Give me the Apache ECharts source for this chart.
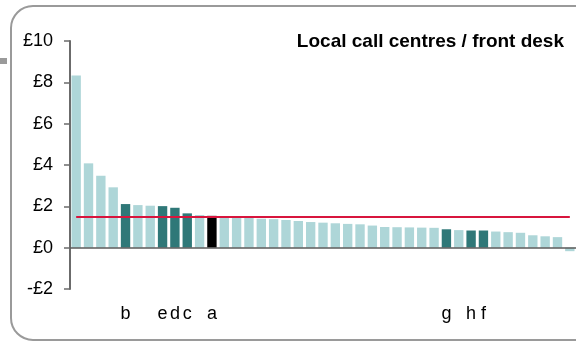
<!DOCTYPE html>
<html><head><meta charset="utf-8">
<script src="https://cdn.jsdelivr.net/npm/echarts@6/dist/echarts.min.js"></script>
<style>html,body{margin:0;padding:0;background:#fff}#c{width:576px;height:344px}</style>
</head><body><div id="c"></div>
<script>
var categories = ['', '', '', '', 'b', '', '', 'e', 'd', 'c', '', 'a', '', '', '', '', '', '', '', '', '',
  '', '', '', '', '', '', '', '', '', 'g', '', 'h', 'f', '', '', '', '', '', '', ''];
var values = [8.33, 4.08, 3.48, 2.92, 2.11, 2.06, 2.03, 2.01, 1.93, 1.66, 1.58, 1.54, 1.46, 1.45, 1.44,
  1.40, 1.38, 1.34, 1.29, 1.24, 1.21, 1.18, 1.15, 1.13, 1.07, 1.00, 0.99, 0.98, 0.97, 0.96,
  0.89, 0.85, 0.83, 0.83, 0.78, 0.75, 0.72, 0.60, 0.55, 0.51, -0.17];
var highlight = ['b', 'e', 'd', 'c', 'g', 'h', 'f'];
var selected = ['a'];
var benchmark = 1.52;
var yTicks = { min: -2, max: 10, interval: 2 };
var title = 'Local call centres / front desk';

var chart = echarts.init(document.getElementById('c'), null, { renderer: 'canvas' });
var barData = values.map(function (v, i) {
  var c = categories[i];
  var col = selected.indexOf(c) >= 0 ? '#000000' : (highlight.indexOf(c) >= 0 ? '#2f7878' : '#aed6d8');
  return { value: v, itemStyle: { color: col } };
});
chart.setOption({
  animation: false,
  title: { text: title, right: 7, top: 27, textStyle: { fontFamily: 'Liberation Sans, Arial', fontSize: 19, fontWeight: 'bold', color: '#000' } },
  graphic: [
    { type: 'rect', shape: { x: 11, y: 6, width: 640, height: 334, r: 22 }, style: { fill: 'none', stroke: '#9a9a9a', lineWidth: 2 }, z: -1 },
    { type: 'rect', shape: { x: 0, y: 58, width: 7, height: 6 }, style: { fill: '#9a9a9a' } }
  ],
  grid: { left: 70, top: 41, bottom: 55, right: -8.5, containLabel: false },
  xAxis: {
    type: 'category', data: categories,
    axisLine: { show: false, onZero: false }, axisTick: { show: false },
    axisLabel: { interval: 0, margin: 16, fontFamily: 'Liberation Sans, Arial', fontSize: 18, color: '#000' }
  },
  yAxis: {
    type: 'value', min: yTicks.min, max: yTicks.max, interval: yTicks.interval,
    splitLine: { show: false },
    axisLine: { show: true, lineStyle: { color: '#6b6b6b', width: 2 } },
    axisTick: { show: true, length: 6, lineStyle: { color: '#6b6b6b', width: 1.5 } },
    axisLabel: { margin: 17, fontFamily: 'Liberation Sans, Arial', fontSize: 18, color: '#000',
      formatter: function (v) { return (v < 0 ? '-£' : '£') + Math.abs(v); } }
  },
  series: [{
    type: 'bar', data: barData, barCategoryGap: '24%',
    markLine: {
      silent: true, symbol: 'none', label: { show: false },
      data: [
        { yAxis: 0, lineStyle: { color: '#5a5a5a', width: 1.5, type: 'solid' } },
        [{ coord: [0, benchmark] }, { coord: [values.length - 1, benchmark] }]
      ],
      lineStyle: { color: '#d8153d', width: 2, type: 'solid' }
    }
  }]
});
</script></body></html>
